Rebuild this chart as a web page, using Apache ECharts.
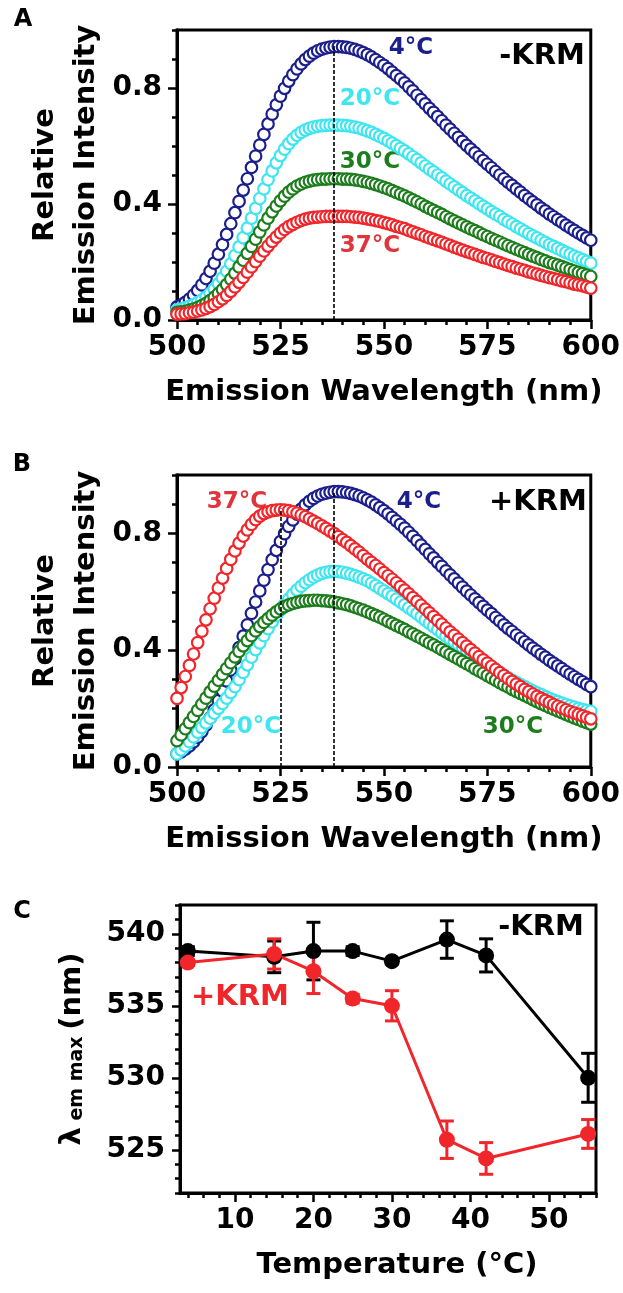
<!DOCTYPE html>
<html>
<head>
<meta charset="utf-8">
<script src="https://cdn.jsdelivr.net/npm/echarts@6.0.0/dist/echarts.min.js"></script>
<style>
html, body { margin: 0; padding: 0; background: #fff; }
#chart { width: 623px; height: 1293px; }
</style>
</head>
<body>
<div id="chart"></div>
<script>
// emission spectra, sampled every 1 nm from 500 to 600
const wavelengths = Array.from({ length: 101 }, (_, i) => 500 + i)

// 4°C (same trace in A and B)
const spec4C = [
  0.045, 0.052, 0.061, 0.072, 0.086, 0.102, 0.121, 0.143, 0.168, 0.196,
  0.227, 0.260, 0.295, 0.332, 0.370, 0.409, 0.448, 0.487, 0.526, 0.565,
  0.603, 0.640, 0.676, 0.710, 0.742, 0.772, 0.799, 0.824, 0.846, 0.866,
  0.883, 0.898, 0.910, 0.920, 0.928, 0.934, 0.938, 0.941, 0.943, 0.943,
  0.942, 0.940, 0.937, 0.933, 0.928, 0.922, 0.915, 0.907, 0.898, 0.888,
  0.878, 0.867, 0.855, 0.843, 0.831, 0.818, 0.804, 0.790, 0.775, 0.760,
  0.745, 0.730, 0.716, 0.701, 0.687, 0.672, 0.658, 0.644, 0.630, 0.616,
  0.602, 0.589, 0.576, 0.563, 0.550, 0.537, 0.525, 0.512, 0.500, 0.487,
  0.475, 0.464, 0.452, 0.441, 0.429, 0.418, 0.407, 0.397, 0.386, 0.376,
  0.365, 0.356, 0.346, 0.337, 0.327, 0.318, 0.309, 0.300, 0.292, 0.283,
  0.275
]

// panel A, -KRM
const specA20C = [
  0.035, 0.038, 0.042, 0.047, 0.053, 0.060, 0.069, 0.079, 0.092, 0.107,
  0.125, 0.145, 0.168, 0.194, 0.222, 0.252, 0.284, 0.317, 0.351, 0.385,
  0.419, 0.452, 0.484, 0.514, 0.542, 0.567, 0.589, 0.608, 0.624, 0.637,
  0.647, 0.655, 0.661, 0.665, 0.668, 0.670, 0.671, 0.672, 0.672, 0.672,
  0.671, 0.670, 0.668, 0.665, 0.662, 0.657, 0.652, 0.647, 0.640, 0.633,
  0.626, 0.618, 0.610, 0.601, 0.592, 0.583, 0.573, 0.563, 0.553, 0.542,
  0.531, 0.520, 0.511, 0.500, 0.490, 0.479, 0.469, 0.459, 0.449, 0.439,
  0.429, 0.420, 0.411, 0.401, 0.392, 0.383, 0.374, 0.365, 0.357, 0.347,
  0.339, 0.331, 0.322, 0.314, 0.306, 0.298, 0.290, 0.283, 0.275, 0.268,
  0.260, 0.254, 0.247, 0.240, 0.233, 0.227, 0.220, 0.214, 0.208, 0.202,
  0.196
]
const specA30C = [
  0.026, 0.028, 0.030, 0.034, 0.038, 0.043, 0.050, 0.057, 0.067, 0.078,
  0.091, 0.105, 0.122, 0.141, 0.161, 0.183, 0.206, 0.230, 0.254, 0.279,
  0.304, 0.328, 0.351, 0.373, 0.393, 0.411, 0.427, 0.441, 0.452, 0.462,
  0.469, 0.475, 0.479, 0.482, 0.484, 0.486, 0.486, 0.487, 0.487, 0.487,
  0.486, 0.486, 0.485, 0.483, 0.481, 0.478, 0.475, 0.471, 0.467, 0.462,
  0.457, 0.452, 0.446, 0.440, 0.434, 0.428, 0.421, 0.414, 0.407, 0.400,
  0.392, 0.385, 0.378, 0.371, 0.364, 0.356, 0.349, 0.342, 0.335, 0.328,
  0.321, 0.314, 0.308, 0.301, 0.294, 0.288, 0.281, 0.275, 0.269, 0.262,
  0.256, 0.250, 0.244, 0.238, 0.232, 0.226, 0.220, 0.215, 0.209, 0.204,
  0.198, 0.194, 0.189, 0.184, 0.179, 0.174, 0.169, 0.164, 0.160, 0.155,
  0.150
]
const specA37C = [
  0.020, 0.021, 0.022, 0.025, 0.027, 0.031, 0.035, 0.040, 0.046, 0.054,
  0.063, 0.073, 0.085, 0.099, 0.114, 0.130, 0.147, 0.165, 0.183, 0.201,
  0.220, 0.238, 0.255, 0.271, 0.286, 0.300, 0.312, 0.322, 0.330, 0.337,
  0.343, 0.348, 0.351, 0.354, 0.355, 0.356, 0.357, 0.357, 0.357, 0.357,
  0.357, 0.357, 0.356, 0.355, 0.354, 0.351, 0.349, 0.346, 0.343, 0.340,
  0.336, 0.332, 0.328, 0.323, 0.319, 0.315, 0.309, 0.304, 0.299, 0.294,
  0.288, 0.283, 0.278, 0.273, 0.268, 0.262, 0.257, 0.251, 0.246, 0.241,
  0.236, 0.231, 0.226, 0.221, 0.216, 0.212, 0.207, 0.202, 0.198, 0.193,
  0.188, 0.184, 0.179, 0.175, 0.171, 0.166, 0.162, 0.158, 0.154, 0.150,
  0.146, 0.143, 0.139, 0.135, 0.132, 0.128, 0.124, 0.121, 0.118, 0.114,
  0.110
]

// panel B, +KRM
const specB20C = [
  0.045, 0.058, 0.072, 0.087, 0.103, 0.119, 0.135, 0.151, 0.167, 0.184,
  0.201, 0.218, 0.236, 0.255, 0.275, 0.299, 0.324, 0.350, 0.376, 0.402,
  0.425, 0.450, 0.474, 0.497, 0.518, 0.538, 0.557, 0.575, 0.591, 0.606,
  0.619, 0.631, 0.641, 0.650, 0.657, 0.663, 0.667, 0.669, 0.670, 0.669,
  0.667, 0.664, 0.660, 0.655, 0.650, 0.644, 0.638, 0.630, 0.621, 0.612,
  0.603, 0.594, 0.585, 0.575, 0.565, 0.555, 0.545, 0.535, 0.525, 0.514,
  0.503, 0.492, 0.481, 0.470, 0.459, 0.448, 0.438, 0.428, 0.418, 0.408,
  0.398, 0.388, 0.378, 0.369, 0.359, 0.350, 0.341, 0.332, 0.323, 0.315,
  0.306, 0.298, 0.290, 0.282, 0.275, 0.268, 0.261, 0.254, 0.248, 0.241,
  0.235, 0.229, 0.224, 0.219, 0.214, 0.209, 0.205, 0.201, 0.197, 0.194,
  0.191
]
const specB30C = [
  0.090, 0.110, 0.131, 0.152, 0.173, 0.194, 0.215, 0.236, 0.257, 0.277,
  0.297, 0.317, 0.337, 0.357, 0.377, 0.396, 0.415, 0.433, 0.450, 0.466,
  0.481, 0.495, 0.508, 0.520, 0.531, 0.541, 0.549, 0.555, 0.560, 0.564,
  0.567, 0.569, 0.570, 0.571, 0.571, 0.570, 0.569, 0.567, 0.565, 0.562,
  0.559, 0.556, 0.552, 0.547, 0.542, 0.537, 0.531, 0.525, 0.519, 0.513,
  0.506, 0.499, 0.492, 0.485, 0.478, 0.471, 0.463, 0.456, 0.448, 0.441,
  0.433, 0.425, 0.418, 0.410, 0.402, 0.394, 0.386, 0.378, 0.370, 0.362,
  0.354, 0.346, 0.337, 0.329, 0.321, 0.313, 0.305, 0.297, 0.289, 0.281,
  0.274, 0.266, 0.259, 0.252, 0.245, 0.238, 0.231, 0.224, 0.217, 0.211,
  0.204, 0.198, 0.192, 0.186, 0.180, 0.174, 0.168, 0.163, 0.157, 0.152,
  0.147
]
const specB37C = [
  0.235, 0.272, 0.310, 0.348, 0.387, 0.426, 0.465, 0.504, 0.542, 0.578,
  0.613, 0.647, 0.680, 0.711, 0.740, 0.767, 0.791, 0.812, 0.831, 0.847,
  0.859, 0.868, 0.874, 0.878, 0.880, 0.881, 0.880, 0.878, 0.874, 0.869,
  0.863, 0.857, 0.850, 0.842, 0.834, 0.826, 0.817, 0.808, 0.799, 0.789,
  0.779, 0.769, 0.758, 0.747, 0.736, 0.724, 0.712, 0.701, 0.690, 0.678,
  0.666, 0.655, 0.643, 0.631, 0.618, 0.606, 0.593, 0.580, 0.567, 0.554,
  0.541, 0.528, 0.515, 0.502, 0.489, 0.476, 0.463, 0.451, 0.438, 0.426,
  0.414, 0.402, 0.390, 0.378, 0.367, 0.356, 0.345, 0.334, 0.323, 0.313,
  0.303, 0.293, 0.284, 0.275, 0.266, 0.258, 0.250, 0.242, 0.235, 0.228,
  0.221, 0.214, 0.208, 0.202, 0.196, 0.190, 0.185, 0.180, 0.175, 0.170,
  0.165
]

// emission maxima (dashed guides)
const peakA = [538, 0.945]
const peaksB = [[525, 0.885], [538, 0.94]]

// panel C
const temps = [4, 15, 20, 25, 30, 37, 42, 55]
const lamMinusKRM = [538.8, 538.4, 538.8, 538.8, 538.1, 539.6, 538.5, 530.0]
const errMinusKRM = [0.3, 1.1, 2.0, 0.3, 0.2, 1.3, 1.15, 1.7]
const lamPlusKRM = [538.0, 538.6, 537.4, 535.5, 535.0, 525.7, 524.4, 526.1]
const errPlusKRM = [0.2, 1.05, 1.55, 0.3, 1.05, 1.3, 1.1, 1.0]

// tick labels
const intensityTicks = [0, 0.4, 0.8]
const intensityMinor = [0.1, 0.2, 0.3, 0.5, 0.6, 0.7, 0.9, 1.0]
const tempTicks = [10, 20, 30, 40, 50]
const tempMinor = [4, 6, 8, 12, 14, 16, 18, 22, 24, 26, 28, 32, 34, 36, 38, 42, 44, 46, 48, 52, 54, 56]
const lamTicks = [525, 530, 535, 540]
const lamMinor = [522, 523, 524, 526, 527, 528, 529, 531, 532, 533, 534, 536, 537, 538, 539, 541, 542]

const FONT = 'DejaVu Sans'
const NAVY = '#1b1f8c'
const CYAN = '#3fe5ef'
const GREEN = '#1d7d1d'
const RED = '#f0262b'

const chart = echarts.init(document.getElementById('chart'))

const bold = (size, color) => ({ color: color || '#000', fontFamily: FONT, fontWeight: 'bold', fontSize: size })
const blackLine = { show: true, onZero: false, lineStyle: { color: '#000', width: 3 } }
const tickStyle = { color: '#000', width: 2.5 }

const specX = (gridIndex) => ({
  type: 'value', gridIndex, position: 'bottom', min: 500, max: 600, interval: 25,
  axisLine: blackLine,
  axisTick: { show: true, length: 9, lineStyle: tickStyle },
  minorTick: { show: true, splitNumber: 5, length: 5, lineStyle: tickStyle },
  axisLabel: Object.assign({ margin: 14 }, bold(28)),
  splitLine: { show: false }, minorSplitLine: { show: false },
  name: 'Emission Wavelength (nm)', nameLocation: 'middle', nameGap: 58, nameMoveOverlap: false,
  nameTextStyle: bold(29)
})
const specY = (gridIndex) => ({
  type: 'value', gridIndex, position: 'left', min: 0, max: 1,
  axisLine: blackLine,
  axisTick: { show: true, length: 9, lineStyle: tickStyle, customValues: intensityTicks },
  axisLabel: Object.assign({ margin: 15, customValues: intensityTicks, formatter: (v) => v.toFixed(1) }, bold(28)),
  splitLine: { show: false },
  name: 'Relative\nEmission Intensity', nameLocation: 'middle', nameGap: 70, nameMoveOverlap: false,
  nameTextStyle: Object.assign({ lineHeight: 41 }, bold(29))
})
const minorY = (gridIndex, min, max, values) => ({
  type: 'value', gridIndex, position: 'left', min, max,
  axisLine: blackLine,
  axisTick: { show: true, length: 5, lineStyle: tickStyle, customValues: values },
  axisLabel: { show: false }, splitLine: { show: false }
})

const dots = (name, values, color, xi, yi, extra) => Object.assign({
  name, type: 'scatter', xAxisIndex: xi, yAxisIndex: yi,
  data: values.map((v, i) => [wavelengths[i], v]),
  symbol: 'circle', symbolSize: 11.5,
  itemStyle: { color: '#fff', borderColor: color, borderWidth: 2.2, opacity: 1 },
  silent: true
}, extra || {})

const guide = (pts) => ({
  silent: true, symbol: ['none', 'none'], label: { show: false },
  lineStyle: { color: '#000', width: 1.6, type: [4, 2] },
  data: pts.map((p) => [{ coord: [p[0], 0] }, { coord: [p[0], p[1]] }])
})

const errorBars = (name, lam, err, color) => ({
  name, type: 'custom', xAxisIndex: 2, yAxisIndex: 4,
  data: temps.map((t, i) => [t, lam[i] - err[i], lam[i] + err[i]]),
  encode: { x: 0, y: [1, 2] },
  silent: true,
  renderItem: (params, api) => {
    const lo = api.coord([api.value(0), api.value(1)])
    const hi = api.coord([api.value(0), api.value(2)])
    const s = { stroke: color, lineWidth: 3 }
    const w = 7
    return {
      type: 'group',
      children: [
        { type: 'line', shape: { x1: lo[0], y1: lo[1], x2: hi[0], y2: hi[1] }, style: s },
        { type: 'line', shape: { x1: lo[0] - w, y1: lo[1], x2: lo[0] + w, y2: lo[1] }, style: s },
        { type: 'line', shape: { x1: hi[0] - w, y1: hi[1], x2: hi[0] + w, y2: hi[1] }, style: s }
      ]
    }
  }
})

const lamLine = (name, lam, color) => ({
  name, type: 'line', xAxisIndex: 2, yAxisIndex: 4,
  data: temps.map((t, i) => [t, lam[i]]),
  symbol: 'circle', symbolSize: 16,
  lineStyle: { color, width: 3 },
  itemStyle: { color },
  silent: true
})

const label = (text, x, y, color, size) => ({
  type: 'text', x, y, silent: true,
  style: { text, fill: color, font: 'bold ' + size + 'px "' + FONT + '"', align: 'center', verticalAlign: 'middle' }
})

const frame = { show: true, borderColor: '#000', borderWidth: 3, backgroundColor: 'transparent' }

chart.setOption({
  animation: false,
  backgroundColor: '#fff',
  grid: [
    Object.assign({ left: 177, top: 30, width: 421, height: 290 }, frame),
    Object.assign({ left: 177, top: 475, width: 421, height: 292 }, frame),
    Object.assign({ left: 180, top: 905, width: 416, height: 288 }, frame)
  ],
  xAxis: [
    specX(0),
    specX(1),
    {
      type: 'value', gridIndex: 2, position: 'bottom', min: 3, max: 56,
      axisLine: blackLine,
      axisTick: { show: true, length: 9, lineStyle: tickStyle, customValues: tempTicks },
      axisLabel: Object.assign({ margin: 14, customValues: tempTicks }, bold(28)),
      splitLine: { show: false },
      name: 'Temperature (°C)', nameLocation: 'middle', nameGap: 58, nameMoveOverlap: false,
      nameTextStyle: Object.assign({ padding: [0, 0, 0, 18] }, bold(29))
    },
    {
      type: 'value', gridIndex: 2, position: 'bottom', min: 3, max: 56,
      axisLine: blackLine,
      axisTick: { show: true, length: 5, lineStyle: tickStyle, customValues: tempMinor },
      axisLabel: { show: false }, splitLine: { show: false }
    }
  ],
  yAxis: [
    specY(0),
    minorY(0, 0, 1, intensityMinor),
    specY(1),
    minorY(1, 0, 1, intensityMinor),
    {
      type: 'value', gridIndex: 2, position: 'left', min: 522, max: 542,
      axisLine: blackLine,
      axisTick: { show: true, length: 8, lineStyle: tickStyle, customValues: lamTicks },
      axisLabel: Object.assign({ margin: 15, customValues: lamTicks }, bold(28)),
      splitLine: { show: false },
      name: '{l|λ}{s| em max }{l|(nm)}', nameLocation: 'middle', nameGap: 93, nameMoveOverlap: false,
      nameTextStyle: {
        rich: {
          l: bold(29),
          s: Object.assign({ verticalAlign: 'bottom' }, bold(19))
        }
      }
    },
    minorY(2, 522, 542, lamMinor)
  ],
  series: [
    dots('A 4°C', spec4C, NAVY, 0, 0),
    dots('A 20°C', specA20C, CYAN, 0, 0),
    dots('A 30°C', specA30C, GREEN, 0, 0),
    dots('A 37°C', specA37C, RED, 0, 0, { markLine: guide([peakA]) }),
    dots('B 4°C', spec4C, NAVY, 1, 2),
    dots('B 20°C', specB20C, CYAN, 1, 2),
    dots('B 30°C', specB30C, GREEN, 1, 2),
    dots('B 37°C', specB37C, RED, 1, 2, { markLine: guide(peaksB) }),
    lamLine('-KRM', lamMinusKRM, '#000'),
    errorBars('-KRM err', lamMinusKRM, errMinusKRM, '#000'),
    lamLine('+KRM', lamPlusKRM, RED),
    errorBars('+KRM err', lamPlusKRM, errPlusKRM, RED)
  ],
  graphic: [
    label('A', 23, 20, '#000', 24),
    label('4°C', 411, 48, NAVY, 23),
    label('20°C', 370, 99, CYAN, 23),
    label('30°C', 370, 162, GREEN, 23),
    label('37°C', 370, 246, '#e0353d', 23),
    label('-KRM', 542, 56, '#000', 29),
    label('B', 22, 465, '#000', 24),
    label('37°C', 237, 502, '#e0353d', 23),
    label('4°C', 419, 502, NAVY, 23),
    label('+KRM', 538, 502, '#000', 29),
    label('20°C', 251, 727, CYAN, 23),
    label('30°C', 513, 727, GREEN, 23),
    label('C', 22, 912, '#000', 24),
    label('-KRM', 541, 927, '#000', 29),
    label('+KRM', 240, 997, RED, 29)
  ]
})
</script>
</body>
</html>
